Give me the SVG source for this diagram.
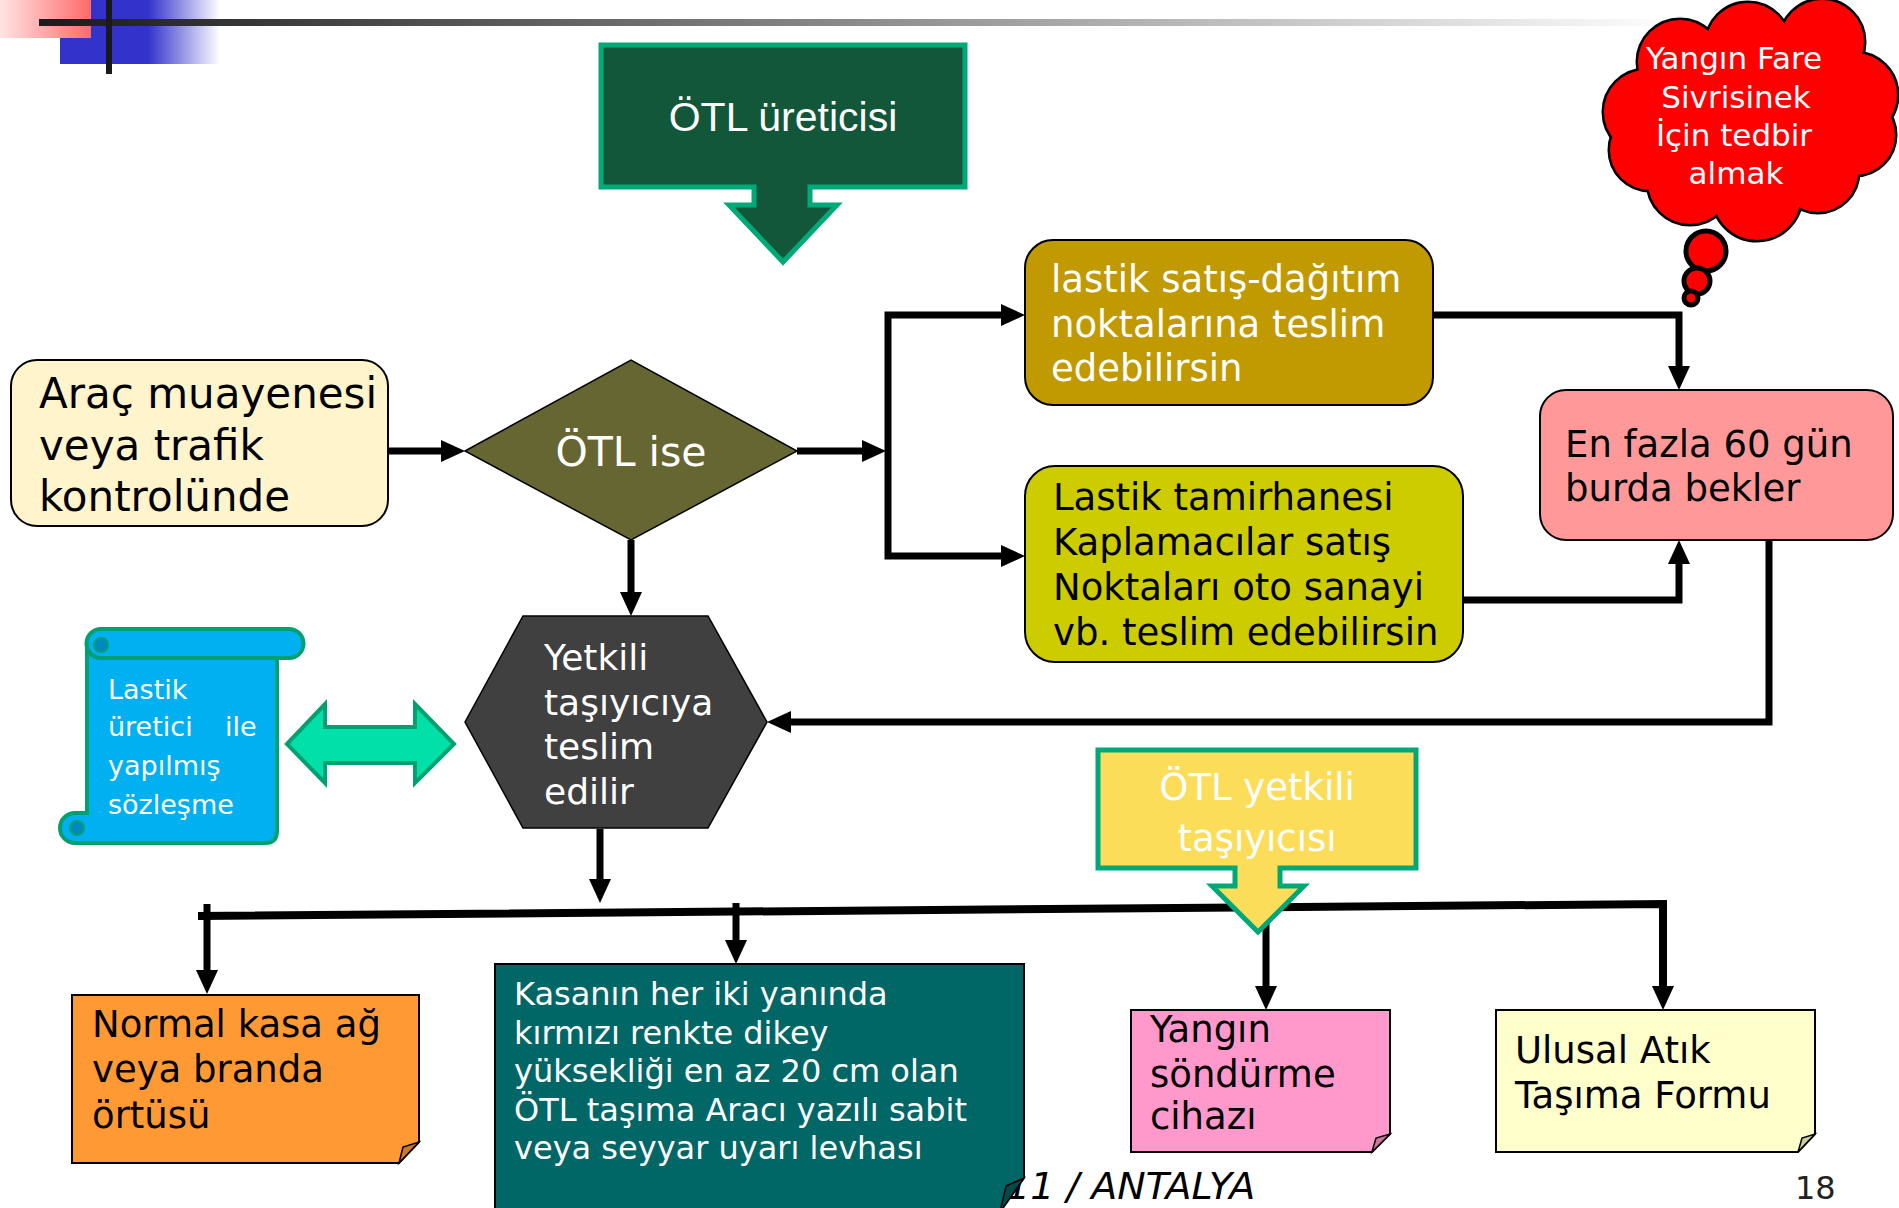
<svg xmlns="http://www.w3.org/2000/svg" width="1899" height="1208" viewBox="0 0 1899 1208">
<defs>
<linearGradient id="hdr" x1="0" y1="0" x2="1" y2="0">
<stop offset="0" stop-color="#1a1a1a"/>
<stop offset="0.45" stop-color="#808080"/>
<stop offset="0.8" stop-color="#d0d0d0"/>
<stop offset="1" stop-color="#ffffff"/>
</linearGradient>
<linearGradient id="red" x1="0" y1="0" x2="1" y2="0">
<stop offset="0" stop-color="#ffe4e4"/>
<stop offset="1" stop-color="#ff6a6a"/>
</linearGradient>
<linearGradient id="blue" x1="0" y1="0" x2="1" y2="0">
<stop offset="0" stop-color="#3333cc"/>
<stop offset="0.55" stop-color="#3333cc"/>
<stop offset="1" stop-color="#ffffff"/>
</linearGradient>
<marker id="ah" markerUnits="userSpaceOnUse" viewBox="0 0 24 22" refX="0" refY="11" markerWidth="24" markerHeight="22" orient="auto">
<path d="M0,0 L24,11 L0,22 Z" fill="#000"/>
</marker>
<style>
text{font-family:"DejaVu Sans",Verdana,sans-serif}
.w{fill:#fff}
.k{fill:#000}
.f37{font-size:37px}
.conn{fill:none;stroke:#000;stroke-width:7;stroke-linejoin:miter}
.box{stroke:#000;stroke-width:2}
.note{stroke:#000;stroke-width:2}
.fold{stroke:#000;stroke-width:1.5}
.cloudo{fill:#f00;stroke:#000;stroke-width:5}
.cloudi{fill:#f00}
</style>
</defs>
<rect width="1899" height="1208" fill="#fff"/>

<g id="header">
<rect x="60" y="0" width="160" height="64" fill="url(#blue)"/>
<rect x="0" y="0" width="91" height="38" fill="url(#red)"/>
<rect x="39" y="19" width="1640" height="7" fill="url(#hdr)"/>
<rect x="106" y="0" width="6" height="74" fill="#1a1a1a"/>
</g>

<g id="footer">
<text x="1006" y="1199" font-size="38" font-style="italic" class="k">11 / ANTALYA</text>
<text x="1795" y="1199" font-size="32" fill="#222">18</text>
</g>

<g id="connectors">
<path class="conn" d="M388,451 H441" marker-end="url(#ah)"/>
<path class="conn" d="M797,451 H862" marker-end="url(#ah)"/>
<path class="conn" d="M888,451 V315 H1001" marker-end="url(#ah)"/>
<path class="conn" d="M888,451 V556 H1001" marker-end="url(#ah)"/>
<path class="conn" d="M1433,315 H1679 V366" marker-end="url(#ah)"/>
<path class="conn" d="M1462,600 H1679 V564" marker-end="url(#ah)"/>
<path class="conn" d="M1769,540 V722 H791" marker-end="url(#ah)"/>
<path class="conn" d="M631,540 V592" marker-end="url(#ah)"/>
<path class="conn" d="M600,829 V879" marker-end="url(#ah)"/>
<path class="conn" style="stroke-width:8" d="M198,916 L1663,904 V986" marker-end="url(#ah)"/>
<path class="conn" d="M207,904 V970" marker-end="url(#ah)"/>
<path class="conn" d="M736,903 V940" marker-end="url(#ah)"/>
<path class="conn" d="M1266,906 V986" marker-end="url(#ah)"/>
</g>

<g id="n-uretici">
<path d="M601,45 H965 V187 H810 V205 H837 L783,262 L729,205 H754 V187 H601 Z" fill="#12573a" stroke="#00aa77" stroke-width="5"/>
<text x="783" y="131" font-size="41" text-anchor="middle" class="w" style="font-family:'Liberation Sans',Arial,sans-serif">ÖTL üreticisi</text>
</g>

<g id="n-cloud">
<circle class="cloudo" cx="1706" cy="251" r="20"/>
<circle class="cloudo" cx="1697" cy="281" r="13"/>
<circle class="cloudo" cx="1691" cy="298" r="7"/>
<g>
<circle class="cloudo" cx="1680" cy="62" r="42"/>
<circle class="cloudo" cx="1748" cy="45" r="42"/>
<circle class="cloudo" cx="1822" cy="42" r="42"/>
<circle class="cloudo" cx="1855" cy="95" r="42"/>
<circle class="cloudo" cx="1855" cy="135" r="40"/>
<circle class="cloudo" cx="1818" cy="172" r="40"/>
<circle class="cloudo" cx="1757" cy="196" r="44"/>
<circle class="cloudo" cx="1690" cy="182" r="42"/>
<circle class="cloudo" cx="1650" cy="150" r="40"/>
<circle class="cloudo" cx="1646" cy="112" r="42"/>
<circle class="cloudo" cx="1750" cy="120" r="80"/>
<circle class="cloudi" cx="1680" cy="62" r="42"/>
<circle class="cloudi" cx="1748" cy="45" r="42"/>
<circle class="cloudi" cx="1822" cy="42" r="42"/>
<circle class="cloudi" cx="1855" cy="95" r="42"/>
<circle class="cloudi" cx="1855" cy="135" r="40"/>
<circle class="cloudi" cx="1818" cy="172" r="40"/>
<circle class="cloudi" cx="1757" cy="196" r="44"/>
<circle class="cloudi" cx="1690" cy="182" r="42"/>
<circle class="cloudi" cx="1650" cy="150" r="40"/>
<circle class="cloudi" cx="1646" cy="112" r="42"/>
<circle class="cloudi" cx="1750" cy="120" r="80"/>
</g>
<g font-size="31" text-anchor="middle" class="w">
<text x="1734" y="69" class="w">Yangın Fare</text>
<text x="1736" y="108" class="w">Sivrisinek</text>
<text x="1734" y="146" class="w">İçin tedbir</text>
<text x="1736" y="184" class="w">almak</text>
</g>
</g>

<g id="n-arac">
<rect x="11" y="360" width="377" height="166" rx="26" fill="#fff4cc" class="box"/>
<text font-size="42" class="k"><tspan x="39" y="408">Araç muayenesi</tspan><tspan x="39" y="460">veya trafik</tspan><tspan x="39" y="511">kontrolünde</tspan></text>
</g>

<g id="n-otlise">
<polygon points="465,451 631,360 797,451 631,540" fill="#666633" stroke="#000" stroke-width="1.5"/>
<text x="631" y="466" font-size="41" text-anchor="middle" class="w">ÖTL ise</text>
</g>

<g id="n-satis">
<rect x="1025" y="240" width="408" height="165" rx="28" fill="#c09a00" class="box"/>
<text class="w f37"><tspan x="1051" y="292">lastik satış-dağıtım</tspan><tspan x="1051" y="337">noktalarına teslim</tspan><tspan x="1051" y="381">edebilirsin</tspan></text>
</g>

<g id="n-tamir">
<rect x="1025" y="466" width="438" height="196" rx="30" fill="#cccc00" class="box"/>
<text class="k f37"><tspan x="1053" y="510">Lastik tamirhanesi</tspan><tspan x="1053" y="555">Kaplamacılar satış</tspan><tspan x="1053" y="600">Noktaları oto sanayi</tspan><tspan x="1053" y="645">vb. teslim edebilirsin</tspan></text>
</g>

<g id="n-60gun">
<rect x="1540" y="390" width="353" height="150" rx="26" fill="#ff9999" class="box"/>
<text class="k f37"><tspan x="1565" y="457">En fazla 60 gün</tspan><tspan x="1565" y="501">burda bekler</tspan></text>
</g>

<g id="n-tasiyici">
<polygon points="465,722 523,616 708,616 767,722 708,828 523,828" fill="#404040" stroke="#000" stroke-width="1.5"/>
<text class="w" font-size="36"><tspan x="544" y="670">Yetkili</tspan><tspan x="544" y="715">taşıyıcıya</tspan><tspan x="544" y="759">teslim</tspan><tspan x="544" y="804">edilir</tspan></text>
</g>

<g id="n-sozlesme">
<path d="M87,643 H277 V831 Q277,843 265,843 H75 A15,15 0 0 1 75,813 H87 Z" fill="#00b0f0" stroke="#00a070" stroke-width="4"/>
<path d="M101,629 H289 A14.5,14.5 0 0 1 289,658 H101 A14.5,14.5 0 0 1 101,629 Z" fill="#00b0f0" stroke="#00a070" stroke-width="4"/>
<circle cx="101" cy="645" r="7" fill="#0088c0" stroke="#00a070" stroke-width="2"/>
<circle cx="77" cy="828" r="7" fill="#0088c0" stroke="#00a070" stroke-width="2"/>
<text class="w" font-size="27"><tspan x="108" y="699">Lastik</tspan><tspan x="108" y="736">üretici <tspan x="225">ile</tspan></tspan><tspan x="108" y="775">yapılmış</tspan><tspan x="108" y="814">sözleşme</tspan></text>
</g>

<g id="n-cift-ok">
<polygon points="287,744 325,704 325,727 415,727 415,704 454,744 415,783 415,763 325,763 325,783" fill="#00e0a8" stroke="#00a070" stroke-width="4" stroke-linejoin="miter"/>
</g>

<g id="n-yetkili">
<path d="M1098,750 H1416 V868 H1280 V886 H1304 L1258,932 L1212,886 H1235 V868 H1098 Z" fill="#fcdd5a" stroke="#00a878" stroke-width="5"/>
<text font-size="37" text-anchor="middle" class="w"><tspan x="1257" y="800">ÖTL yetkili</tspan><tspan x="1257" y="851">taşıyıcısı</tspan></text>
</g>

<g id="n-ortu">
<path d="M72,995 H419 V1142 L399,1163 H72 Z" fill="#ff9933" class="note"/>
<path d="M419,1142 L399,1163 L403,1147 Z" fill="#cc7a29" class="fold"/>
<text class="k f37"><tspan x="92" y="1037">Normal kasa ağ</tspan><tspan x="92" y="1082">veya branda</tspan><tspan x="92" y="1128">örtüsü</tspan></text>
</g>

<g id="n-levha">
<path d="M495,964 H1024 V1178 L1000,1212 H495 Z" fill="#006666" class="note"/>
<path d="M1024,1178 L1000,1212 L1006,1186 Z" fill="#004a4a" class="fold"/>
<text class="w" font-size="32"><tspan x="514" y="1005">Kasanın her iki yanında</tspan><tspan x="514" y="1044">kırmızı renkte dikey</tspan><tspan x="514" y="1082">yüksekliği en az 20 cm olan</tspan><tspan x="514" y="1121">ÖTL taşıma Aracı yazılı sabit</tspan><tspan x="514" y="1159">veya seyyar uyarı levhası</tspan></text>
</g>

<g id="n-yangin">
<path d="M1131,1010 H1390 V1134 L1372,1152 H1131 Z" fill="#ff99cc" class="note"/>
<path d="M1390,1134 L1372,1152 L1376,1138 Z" fill="#cc7aa3" class="fold"/>
<text class="k f37"><tspan x="1150" y="1042">Yangın</tspan><tspan x="1150" y="1087">söndürme</tspan><tspan x="1150" y="1129">cihazı</tspan></text>
</g>

<g id="n-form">
<path d="M1496,1010 H1815 V1134 L1798,1152 H1496 Z" fill="#ffffcc" class="note"/>
<path d="M1815,1134 L1798,1152 L1802,1138 Z" fill="#cccca3" class="fold"/>
<text class="k f37"><tspan x="1515" y="1063">Ulusal Atık</tspan><tspan x="1515" y="1108">Taşıma Formu</tspan></text>
</g>
</svg>
